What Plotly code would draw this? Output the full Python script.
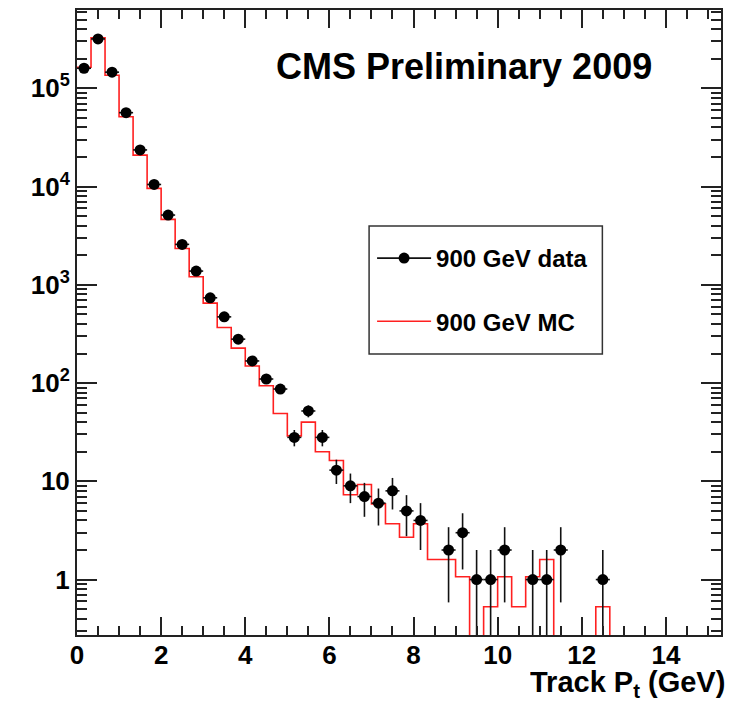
import numpy as np
import plotly.graph_objects as go

# ---------------- data ----------------
bin_width = 1.0 / 3.0
data_counts = [160000, 318000, 146000, 56500, 23600, 10500, 5130, 2580, 1380, 738,
               472, 280, 168, 110, 87, 28, 52, 28, 13, 9,
               7, 6, 8, 5, 4, 0, 2, 3, 1, 1,
               2, 0, 1, 1, 2, 0, 0, 1]
mc_values = [164000, 327000, 136000, 51400, 20900, 9590, 4630, 2340, 1210, 651,
             368, 227, 149, 94, 49, 29, 40, 20, 16.3, 7.3,
             9.3, 5.9, 3.7, 2.7, 3.7, 1.6, 1.6, 1.07, 0, 0.53,
             1.07, 0.53, 1.07, 1.6, 0, 0, 0, 0.53]
x_tick_vals = [0, 2, 4, 6, 8, 10, 12, 14]
y_tick_vals = [1, 10, 100, 1000, 10000, 100000]
y_tick_text = ["1", "10", "10<sup>2</sup>", "10<sup>3</sup>", "10<sup>4</sup>", "10<sup>5</sup>"]
title_text = "CMS Preliminary 2009"
x_title = "Track P<sub>t</sub> (GeV)"
data_label = "900 GeV data"
mc_label = "900 GeV MC"

# ---------------- derived ----------------
n_bins = len(data_counts)
edges = np.arange(n_bins + 1) * bin_width
centers = (np.arange(n_bins) + 0.5) * bin_width
counts = np.array(data_counts, dtype=float)
y_data = [c if c > 0 else None for c in counts]
err_up = np.sqrt(counts)
err_dn = np.minimum(np.sqrt(counts), counts * 0.999)

floor = 1e-3  # zero bins drawn below the visible log range
mc = np.array(mc_values + [0.0], dtype=float)
mc_draw = np.where(mc > 0, mc, floor)

x_range = [0, 15.31]
y_range = [-0.564, 5.797]

minor_x = [v for v in np.arange(0, 15.31, 0.5) if abs(v / 2 - round(v / 2)) > 1e-6]
minor_y = []
for d in range(-1, 6):
    for m in range(2, 10):
        v = m * 10.0 ** d
        if 10 ** y_range[0] <= v <= 10 ** y_range[1]:
            minor_y.append(v)

FONT = "Liberation Sans"
AX = "#222222"

fig = go.Figure()

# MC histogram (step line)
fig.add_trace(go.Scatter(
    x=edges, y=mc_draw, mode="lines", line=dict(color="#ff2020", width=1.6, shape="hv"),
    name=mc_label, legendgroup="mc", legendrank=2, hoverinfo="skip"))

# data points with errors
fig.add_trace(go.Scatter(
    x=centers, y=y_data, mode="markers",
    marker=dict(color="black", size=11),
    error_y=dict(type="data", array=err_up, arrayminus=err_dn, color="#111111",
                 thickness=1.6, width=0),
    error_x=dict(type="constant", value=bin_width / 2, color="#111111", thickness=1.6, width=0),
    showlegend=False, name=data_label))

# legend entry for data (line through marker, like the reference)
fig.add_trace(go.Scatter(
    x=[None], y=[None], mode="lines+markers",
    marker=dict(color="black", size=11), line=dict(color="#111111", width=1.6),
    name=data_label, legendgroup="data", legendrank=1))

axis_common = dict(showline=True, linecolor=AX, linewidth=2, mirror="allticks",
                   ticks="inside", tickcolor=AX, tickwidth=1.5, showgrid=False,
                   zeroline=False)

fig.update_xaxes(range=x_range, tickvals=x_tick_vals, ticklen=18,
                 tickfont=dict(family=FONT, size=26, color="black", weight="bold"),
                 ticklabelstandoff=-4,
                 minor=dict(tickvals=minor_x, ticklen=9, tickcolor=AX, tickwidth=1.5, ticks="inside"),
                 **axis_common)
fig.update_yaxes(type="log", range=y_range, tickvals=y_tick_vals, ticktext=y_tick_text, ticklen=20,
                 tickfont=dict(family=FONT, size=26, color="black", weight="bold"),
                 minor=dict(tickvals=minor_y, ticklen=10, tickcolor=AX, tickwidth=1.5, ticks="inside"),
                 **axis_common)

L, R, T, B = 77, 6, 10, 66
W, H = 729, 701
pw, ph = W - L - R, H - T - B

def px_x(p):
    return (p - L) / pw

def px_y(p):
    return (H - B - p) / ph

# legend frame
fig.add_shape(type="rect", xref="paper", yref="paper",
              x0=px_x(370), x1=px_x(604), y0=px_y(354), y1=px_y(226),
              line=dict(color="#333333", width=1.5), fillcolor="rgba(0,0,0,0)")

fig.add_annotation(text=title_text, xref="paper", yref="paper",
                   x=px_x(275), y=px_y(67), xanchor="left", yanchor="middle", showarrow=False,
                   font=dict(family=FONT, size=36, color="black", weight="bold"))
fig.add_annotation(text=x_title, xref="paper", yref="paper",
                   x=px_x(729), y=px_y(701), xanchor="right", yanchor="bottom", showarrow=False,
                   height=30, valign="middle",
                   font=dict(family=FONT, size=29, color="black", weight="bold"))

fig.update_layout(
    width=W, height=H, margin=dict(l=L, r=R, t=T, b=B),
    paper_bgcolor="white", plot_bgcolor="white",
    showlegend=True,
    legend=dict(x=px_x(373), y=px_y(236), xanchor="left", yanchor="top",
                bgcolor="rgba(0,0,0,0)", borderwidth=0, tracegroupgap=29,
                itemwidth=54,
                font=dict(family=FONT, size=24, color="black", weight="bold")),
)

fig.write_html("out.html")
